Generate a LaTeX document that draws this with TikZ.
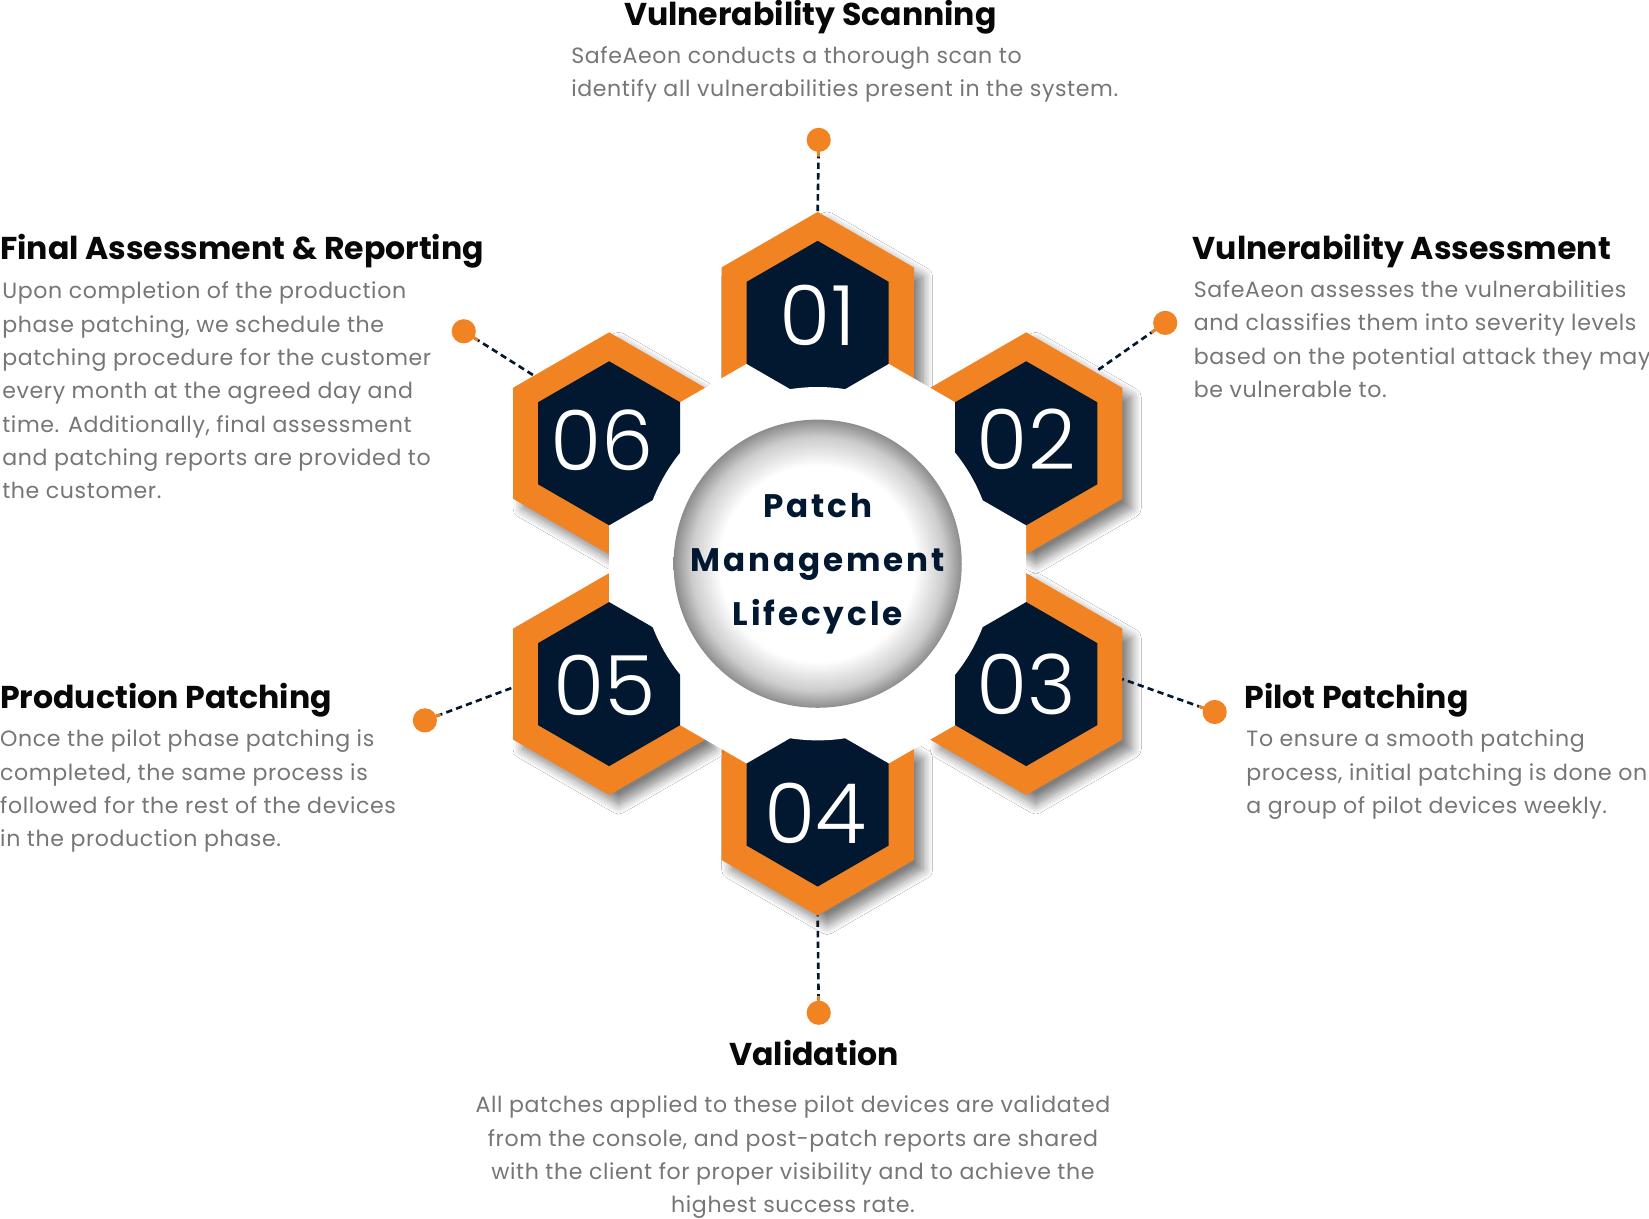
\documentclass[tikz,border=0pt]{standalone}
\usepackage{fontspec}
\setmainfont{Poppins}
\newfontfamily\bodyfont{Poppins}[LetterSpace=2.8]
\newfontfamily\corefont{Poppins}[LetterSpace=9]
\IfFontExistsTF{Poppins Light}{\newfontfamily\numfont{Poppins Light}}{%
  \IfFontExistsTF{Poppins-Light.ttf}{\newfontfamily\numfont{Poppins-Light.ttf}}{%
    \IfFontExistsTF{Poppins ExtraLight}{\newfontfamily\numfont{Poppins ExtraLight}}{%
      \newfontfamily\numfont{Poppins}}}}
\usetikzlibrary{shapes.geometric,calc,shadows.blur}

\definecolor{hexorange}{HTML}{F28322}
\definecolor{hexnavy}{HTML}{011830}
\definecolor{bodygray}{HTML}{767676}
\definecolor{headblack}{HTML}{080808}

\pgfdeclareradialshading{sphere}{\pgfpoint{0bp}{0bp}}{%
  color(0bp)=(white); color(17bp)=(white); color(22bp)=(black!20);
  color(25bp)=(black!45); color(50bp)=(black!45)}

\tikzset{
  hexout/.style={regular polygon, regular polygon sides=6, shape border rotate=30,
    minimum size=211pt, inner sep=0pt, outer sep=0pt, fill=hexorange,
    blur shadow={shadow xshift=9pt, shadow yshift=-9pt, shadow blur radius=9pt,
      shadow blur steps=12, shadow opacity=50}},
  hexin/.style={regular polygon, regular polygon sides=6, shape border rotate=30,
    minimum size=156pt, inner sep=0pt, outer sep=0pt, fill=hexnavy},
  num/.style={inner sep=0pt, text=white, font=\numfont\fontsize{79}{79}\selectfont},
  dot/.style={circle, fill=hexorange, minimum size=23pt, inner sep=0pt},
  link/.style={hexnavy, line width=2.5pt, dash pattern=on 6pt off 4pt},
  stub/.style={hexorange, line width=2.5pt},
  head/.style={anchor=base west, inner sep=0pt, text=headblack,
    font=\bfseries\fontsize{30}{34}\selectfont},
  body/.style={anchor=base west, inner sep=0pt, align=left, text=bodygray,
    font=\bodyfont\fontsize{21}{31.7}\selectfont},
}

\begin{document}
\begin{tikzpicture}[x=1pt,y=-1pt]
  \useasboundingbox[fill=white] (0,0) rectangle (1568,1159);

  % orange frames
  \node(h1) at (777.5,307) [hexout] {};
  \node(h2) at (975.8,421.5) [hexout] {};
  \node(h3) at (975.8,650.5) [hexout] {};
  \node(h4) at (777.5,765) [hexout] {};
  \node(h5) at (579.2,650.5) [hexout] {};
  \node(h6) at (579.2,421.5) [hexout] {};

  % white hexagon between the frames
  \fill[white] (h1.center) -- (h2.center) -- (h3.center) -- (h4.center)
    -- (h5.center) -- (h6.center) -- cycle;

  % numbered cells
  \node(c1) at (h1) [hexin] {};
  \node(c2) at (h2) [hexin] {};
  \node(c3) at (h3) [hexin] {};
  \node(c4) at (h4) [hexin] {};
  \node(c5) at (h5) [hexin] {};
  \node(c6) at (h6) [hexin] {};

  % centre
  \node(ring) at (777.5,536) [circle, fill=white, minimum size=336pt] {};
  \node(core) at (777.5,536) [circle, shading=sphere, inner sep=0pt, minimum size=274pt] {};
  \node(name) at (core) [align=center, text=hexnavy,
    font=\corefont\bfseries\fontsize{31}{51}\selectfont]
    {Patch\\Management\\Lifecycle};

  \node(l1) at (c1) [num, yshift=7pt] {01};
  \node(l2) at (c2) [num, yshift=4pt] {02};
  \node(l3) at (c3) [num] {03};
  \node(l4) at (c4) [num, xshift=-2pt, yshift=-8pt] {04};
  \node(l5) at (c5) [num, xshift=-4pt, yshift=-1pt] {05};
  \node(l6) at (c6) [num, xshift=-7pt, yshift=3pt] {06};

  % pins
  \node(d1) at (778.5,133) [dot] {};
  \node(d2) at (1108,307) [dot] {};
  \node(d3) at (1155,677) [dot] {};
  \node(d4) at (778.5,963) [dot] {};
  \node(d5) at (404,685) [dot] {};
  \node(d6) at (441,315) [dot] {};

  \draw[link] (d1) -- (h1.90);
  \draw[link] (d2) -- (h2.46);
  \draw[link] (d3) -- (h3.3);
  \draw[link] (d4) -- (h4.270);
  \draw[link] (d5) -- (h5.182);
  \draw[link] (d6) -- (h6.138);
  \draw[stub] (d1.center) -- ($(d1.center)!16pt!(h1.90)$);
  \draw[stub] (d2.center) -- ($(d2.center)!16pt!(h2.46)$);
  \draw[stub] (d3.center) -- ($(d3.center)!16pt!(h3.3)$);
  \draw[stub] (d4.center) -- ($(d4.center)!16pt!(h4.270)$);
  \draw[stub] (d5.center) -- ($(d5.center)!16pt!(h5.182)$);
  \draw[stub] (d6.center) -- ($(d6.center)!16pt!(h6.138)$);

  % texts (body nodes sit on their last line)
  \node(t1) at (770.5,24) [head, anchor=base] {Vulnerability Scanning};
  \node(b1) at (543,91.7) [body] {SafeAeon conducts a thorough scan to\\
    identify all vulnerabilities present in the system.};

  \node(t2) at (1134,247) [head] {Vulnerability Assessment};
  \node(b2) at (1135,378.1) [body] {SafeAeon assesses the vulnerabilities\\
    and classifies them into severity levels\\
    based on the potential attack they may\\
    be vulnerable to.};

  \node(t3) at (1183,674) [head] {Pilot Patching};
  \node(b3) at (1185,773.4) [body] {To ensure a smooth patching\\
    process, initial patching is done on\\
    a group of pilot devices weekly.};

  \node(t4) at (774,1013) [head, anchor=base] {Validation};
  \node(b4) at (754,1153.1) [body, anchor=base, align=center]
    {All patches applied to these pilot devices are validated\\
    from the console, and post-patch reports are shared\\
    with the client for proper visibility and to achieve the\\
    highest success rate.};

  \node(t5) at (0,674) [head] {Production Patching};
  \node(b5) at (0,805.1) [body] {Once the pilot phase patching is\\
    completed, the same process is\\
    followed for the rest of the devices\\
    in the production phase.};

  \node(t6) at (0,247) [head] {Final Assessment \& Reporting};
  \node(b6) at (2,474.2) [body] {Upon completion of the production\\
    phase patching, we schedule the\\
    patching procedure for the customer\\
    every month at the agreed day and\\
    time. Additionally, final assessment\\
    and patching reports are provided to\\
    the customer.};
\end{tikzpicture}
\end{document}
